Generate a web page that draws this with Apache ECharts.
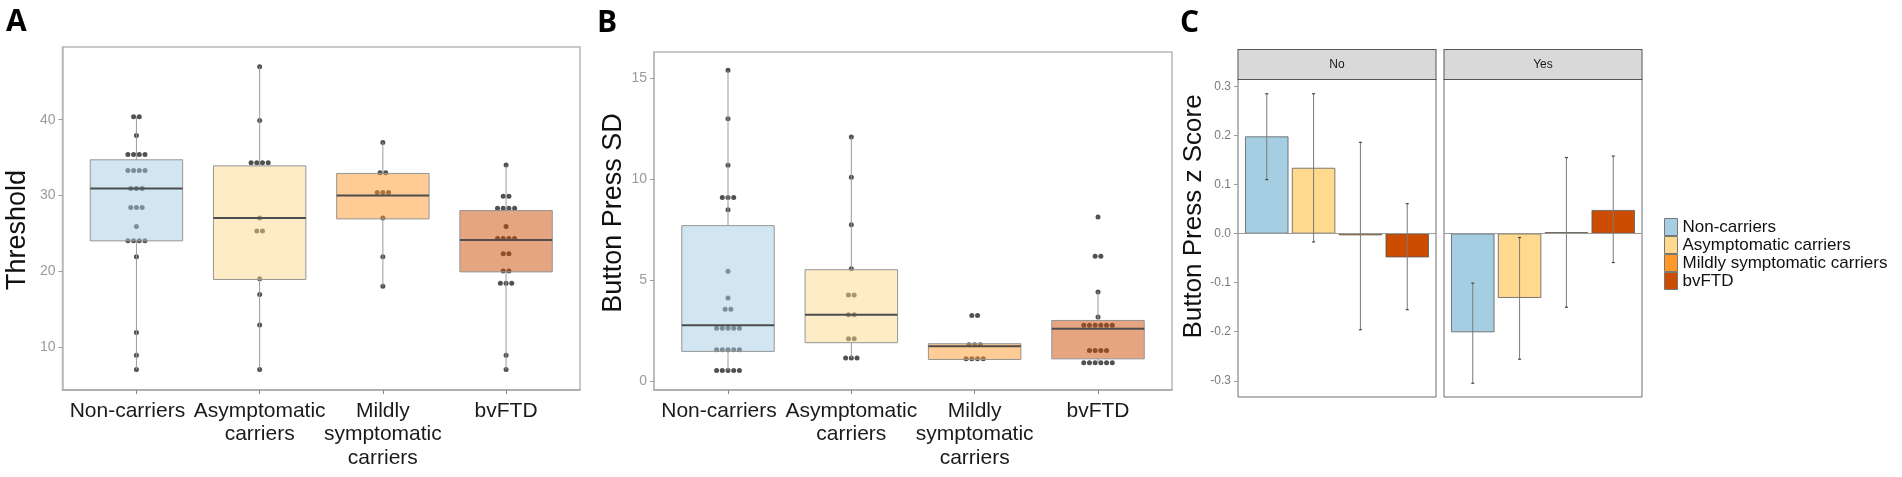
<!DOCTYPE html>
<html><head><meta charset="utf-8">
<script src="https://cdn.jsdelivr.net/npm/echarts@6/dist/echarts.min.js"></script>
<style>html,body{margin:0;padding:0;background:#fff}#c{width:1902px;height:477px}</style>
</head><body><div id="c"></div>
<script>
// ---------- shared ----------
const categories = ['Non-carriers', 'Asymptomatic carriers', 'Mildly symptomatic carriers', 'bvFTD'];
const tickLabels = ['Non-carriers', 'Asymptomatic\ncarriers', 'Mildly\nsymptomatic\ncarriers', 'bvFTD'];
const groupColors = ['#a6cee3', '#fed98e', '#fe9929', '#cc4c02'];
const categoryPositions = [0, 1, 2, 3];

// ---------- Panel A: Threshold ----------
const thresholdTicks = [10, 20, 30, 40];
const thresholdNonCarriers = [40.4, 40.4, 37.9, 35.4, 35.4, 35.4, 35.4, 33.3, 33.3, 33.3, 33.3, 30.9, 30.9, 30.9, 28.4, 28.4, 28.4, 25.9, 24, 24, 24, 24, 21.9, 11.9, 8.9, 7];
const thresholdAsymptomatic = [47, 39.9, 34.3, 34.3, 34.3, 34.3, 27, 25.3, 25.3, 19, 16.9, 12.9, 7];
const thresholdMildly = [37, 33, 33, 30.4, 30.4, 30.4, 27, 21.9, 18];
const thresholdBvFTD = [34, 29.9, 29.9, 28.3, 28.3, 28.3, 28.3, 25.9, 24.3, 24.3, 24.3, 24.3, 22.3, 22.3, 20, 20, 18.4, 18.4, 18.4, 8.9, 7];
// [lower whisker, Q1, median, Q3, upper whisker]
const thresholdBoxes = [[7, 24, 30.9, 34.7, 40.4], [7, 18.9, 27, 33.9, 47], [18, 26.9, 30, 32.9, 37], [7, 19.9, 24.1, 28, 33.9]];

// ---------- Panel B: Button Press SD ----------
const sdTicks = [0, 5, 10, 15];
const sdNonCarriers = [15.4, 13, 10.7, 9.1, 9.1, 9.1, 8.5, 5.45, 4.13, 3.58, 3.58, 2.64, 2.64, 2.64, 2.64, 2.64, 1.57, 1.57, 1.57, 1.57, 1.57, 0.55, 0.55, 0.55, 0.55, 0.55];
const sdAsymptomatic = [12.1, 10.1, 7.76, 5.58, 4.28, 4.28, 3.3, 3.3, 2.11, 2.11, 1.16, 1.16, 1.16];
const sdMildly = [3.27, 3.27, 1.82, 1.82, 1.82, 1.12, 1.12, 1.12, 1.12];
const sdBvFTD = [8.14, 6.2, 6.2, 4.43, 3.19, 2.78, 2.78, 2.78, 2.78, 2.78, 2.78, 1.54, 1.54, 1.54, 1.54, 0.93, 0.93, 0.93, 0.93, 0.93, 0.93];
const sdBoxes = [[0.55, 1.49, 2.78, 7.71, 15.36], [1.16, 1.92, 3.3, 5.53, 12.09], [1.09, 1.09, 1.75, 1.87, 1.87], [0.93, 1.12, 2.61, 3.02, 4.43]];

// ---------- Panel C: Button Press z Score ----------
const facets = ['No', 'Yes'];
const zTicks = [-0.3, -0.2, -0.1, 0, 0.1, 0.2, 0.3];
const zMeanNo = [0.198, 0.134, -0.0035, -0.0485];
const zLowNo = [0.110, -0.017, -0.196, -0.155];
const zHighNo = [0.285, 0.285, 0.186, 0.061];
const zMeanYes = [-0.201, -0.131, 0.003, 0.048];
const zLowYes = [-0.305, -0.256, -0.150, -0.059];
const zHighYes = [-0.101, -0.008, 0.155, 0.158];

// ---------- helpers ----------
const FONT = "'Liberation Sans', Arial, sans-serif";
const DOT_SPACING = 5.7;
const BAR_W = 0.219, BAR_GAP = 0.08;

function dotData(groups) {
  const out = [];
  groups.forEach((vals, ci) => {
    const counts = {};
    vals.forEach(v => { counts[v] = (counts[v] || 0) + 1; });
    const seen = {};
    vals.forEach(v => {
      const n = counts[v]; const j = seen[v] || 0; seen[v] = j + 1;
      out.push({ value: [categoryPositions[ci], v], symbolOffset: [(j - (n - 1) / 2) * DOT_SPACING, 0] });
    });
  });
  return out;
}

function renderBox(params, api) {
  const x = api.value(0);
  const idx = params.dataIndex;
  const w = api.size([0.75, 0])[0];
  const cx = api.coord([x, 0])[0];
  const y = v => api.coord([x, v])[1];
  const lo = y(api.value(1)), q1 = y(api.value(2)), med = y(api.value(3)), q3 = y(api.value(4)), hi = y(api.value(5));
  return { type: 'group', children: [
    { type: 'line', shape: { x1: cx, y1: hi, x2: cx, y2: q3 }, style: { stroke: '#9a9a9a', lineWidth: 1 } },
    { type: 'line', shape: { x1: cx, y1: q1, x2: cx, y2: lo }, style: { stroke: '#9a9a9a', lineWidth: 1 } },
    { type: 'rect', shape: { x: cx - w / 2, y: q3, width: w, height: q1 - q3 },
      style: { fill: echarts.color.modifyAlpha(groupColors[idx], 0.5), stroke: '#959595', lineWidth: 1 } },
    { type: 'line', shape: { x1: cx - w / 2, y1: med, x2: cx + w / 2, y2: med }, style: { stroke: '#4d4d4d', lineWidth: 2 } }
  ] };
}

function renderErr(params, api) {
  const k = api.value(3);
  const band = api.size([0, 0])[0];
  const bw = band * BAR_W, gap = bw * BAR_GAP;
  const total = 4 * bw + 3 * gap;
  const c0 = api.coord([api.value(0), 0])[0];
  const cx = c0 - total / 2 + bw / 2 + k * (bw + gap);
  const yl = api.coord([api.value(0), api.value(1)])[1];
  const yh = api.coord([api.value(0), api.value(2)])[1];
  const st = { stroke: '#7a7a7a', lineWidth: 1 };
  return { type: 'group', children: [
    { type: 'line', shape: { x1: cx, y1: yh, x2: cx, y2: yl }, style: st },
    { type: 'line', shape: { x1: cx - 1.5, y1: yh, x2: cx + 1.5, y2: yh }, style: { stroke: '#444', lineWidth: 1.2 } },
    { type: 'line', shape: { x1: cx - 1.5, y1: yl, x2: cx + 1.5, y2: yl }, style: { stroke: '#444', lineWidth: 1.2 } }
  ] };
}

// Category labels are split across two overlaid axes (even / odd positions) so that
// neighbouring long labels are never dropped by overlap handling.
function catXAxis(gridIndex, parity, main) {
  const vals = categoryPositions.filter(p => p % 2 === parity);
  return {
    gridIndex, type: 'value', min: -0.6, max: 3.6, position: 'bottom', offset: 0,
    splitLine: { show: false },
    axisLine: { show: main, onZero: false, lineStyle: { color: '#a8a8a8', width: 1.5 } },
    axisTick: { show: main, customValues: categoryPositions, length: 4, lineStyle: { color: '#888' } },
    axisLabel: {
      customValues: vals, margin: 9, fontSize: 21, lineHeight: 23.5, color: '#1a1a1a', fontFamily: FONT,
      showMinLabel: true, showMaxLabel: true, hideOverlap: false,
      formatter: v => (Math.round(v) === 0 ? '{s|' + tickLabels[0] + '}' : tickLabels[Math.round(v)]),
      rich: { s: { fontSize: 21, lineHeight: 23.5, color: '#1a1a1a', fontFamily: FONT, padding: [0, 18, 0, 0] } }
    }
  };
}

function valYAxis(gridIndex, min, max, ticks, name, gap, pad, nameSize, lblSize, lblColor, fmt) {
  return {
    gridIndex, type: 'value', min, max,
    splitLine: { show: false },
    axisLine: { show: true, onZero: false, lineStyle: { color: '#b8b8b8', width: 1.5 } },
    axisTick: { show: true, customValues: ticks, length: 4, lineStyle: { color: '#999' } },
    axisLabel: { customValues: ticks, fontSize: lblSize, color: lblColor, margin: 7, fontFamily: FONT, formatter: fmt },
    name, nameLocation: 'middle', nameGap: gap,
    nameTextStyle: { fontSize: nameSize, color: '#111', fontFamily: FONT, padding: pad }
  };
}

function stripXAxis(gridIndex, label) {
  return {
    gridIndex, type: 'category', position: 'top', data: [label],
    axisLine: { show: false, onZero: false }, axisTick: { show: false }, splitLine: { show: false },
    axisLabel: {
      margin: 0, fontSize: 12, color: '#1a1a1a', fontFamily: FONT,
      backgroundColor: '#d9d9d9', borderColor: '#555', borderWidth: 1,
      width: 197, height: 29, lineHeight: 29, align: 'center', padding: 0
    }
  };
}

const series = [];
// Panel A
series.push({ type: 'scatter', xAxisIndex: 0, yAxisIndex: 0, symbolSize: 5, itemStyle: { color: '#262626' }, z: 1,
  data: dotData([thresholdNonCarriers, thresholdAsymptomatic, thresholdMildly, thresholdBvFTD]) });
series.push({ type: 'custom', xAxisIndex: 0, yAxisIndex: 0, z: 2, renderItem: renderBox, encode: { x: 0, y: [1, 2, 3, 4, 5] },
  data: thresholdBoxes.map((b, i) => [categoryPositions[i]].concat(b)) });
// Panel B
series.push({ type: 'scatter', xAxisIndex: 1, yAxisIndex: 1, symbolSize: 5, itemStyle: { color: '#262626' }, z: 1,
  data: dotData([sdNonCarriers, sdAsymptomatic, sdMildly, sdBvFTD]) });
series.push({ type: 'custom', xAxisIndex: 1, yAxisIndex: 1, z: 2, renderItem: renderBox, encode: { x: 0, y: [1, 2, 3, 4, 5] },
  data: sdBoxes.map((b, i) => [categoryPositions[i]].concat(b)) });
// Panel C
[[zMeanNo, zLowNo, zHighNo], [zMeanYes, zLowYes, zHighYes]].forEach((set, f) => {
  const axis = 2 + f;
  categories.forEach((name, k) => {
    const s = { type: 'bar', name, xAxisIndex: axis, yAxisIndex: axis, barWidth: (BAR_W * 100) + '%', barGap: (BAR_GAP * 100) + '%',
      itemStyle: { color: groupColors[k], borderColor: '#5a5a5a', borderWidth: 0.8 }, data: [set[0][k]] };
    if (k === 0) {
      s.markLine = { silent: true, symbol: 'none', label: { show: false }, data: [{ yAxis: 0 }],
        lineStyle: { color: '#9a9a9a', width: 1, type: 'solid' } };
    }
    series.push(s);
  });
  series.push({ type: 'custom', xAxisIndex: axis, yAxisIndex: axis, z: 5, renderItem: renderErr,
    encode: { x: 0, y: [1, 2] },
    data: categories.map((c, k) => [0, set[1][k], set[2][k], k]) });
});

const zFmt = v => v.toFixed(1);
const letterStyle = { fontSize: 30, fontWeight: 'bold', color: '#000', fontFamily: "'Open Sans', sans-serif" };
const option = {
  animation: false,
  backgroundColor: '#fff',
  title: [
    { text: 'A', left: 6, top: 7, padding: 0, textStyle: letterStyle },
    { text: 'B', left: 597, top: 8, padding: 0, textStyle: letterStyle },
    { text: 'C', left: 1180, top: 8, padding: 0, textStyle: letterStyle }
  ],
  legend: {
    data: categories, orient: 'vertical', left: 1664, top: 218, padding: 0,
    itemWidth: 13, itemHeight: 17, itemGap: 0, icon: 'rect',
    itemStyle: { borderColor: '#777', borderWidth: 1 },
    textStyle: { fontSize: 17, color: '#111', fontFamily: FONT, lineHeight: 17 }
  },
  grid: [
    { left: 62.5, top: 47, width: 517.5, height: 343, show: true, borderColor: '#b8b8b8', borderWidth: 1.5, backgroundColor: 'transparent' },
    { left: 654, top: 52, width: 518, height: 338, show: true, borderColor: '#b8b8b8', borderWidth: 1.5, backgroundColor: 'transparent' },
    { left: 1238, top: 79, width: 198, height: 318, show: true, borderColor: '#6f6f6f', borderWidth: 1, backgroundColor: 'transparent' },
    { left: 1444, top: 79, width: 198, height: 318, show: true, borderColor: '#6f6f6f', borderWidth: 1, backgroundColor: 'transparent' }
  ],
  xAxis: [catXAxis(0, 0, true), catXAxis(1, 0, true), stripXAxis(2, facets[0]), stripXAxis(3, facets[1]),
          catXAxis(0, 1, false), catXAxis(1, 1, false)],
  yAxis: [
    valYAxis(0, 4.3, 49.6, thresholdTicks, 'Threshold', 31, [0, 23, 0, 0], 27, 14, '#9a9a9a'),
    valYAxis(1, -0.42, 16.3, sdTicks, 'Button Press SD', 27, [0, 0, 0, 16], 27, 14, '#9a9a9a'),
    Object.assign(valYAxis(2, -0.333, 0.315, zTicks, 'Button Press z Score', 30, [0, 0, 0, 43], 26, 12, '#7a7a7a', zFmt),
      { axisLine: { show: false, onZero: false } }),
    { gridIndex: 3, type: 'value', min: -0.333, max: 0.315, axisLine: { show: false, onZero: false }, axisTick: { show: false },
      axisLabel: { show: false }, splitLine: { show: false } }
  ],
  series
};

const chart = echarts.init(document.getElementById('c'), null, { renderer: 'canvas' });
chart.setOption(option);
</script>
</body></html>
